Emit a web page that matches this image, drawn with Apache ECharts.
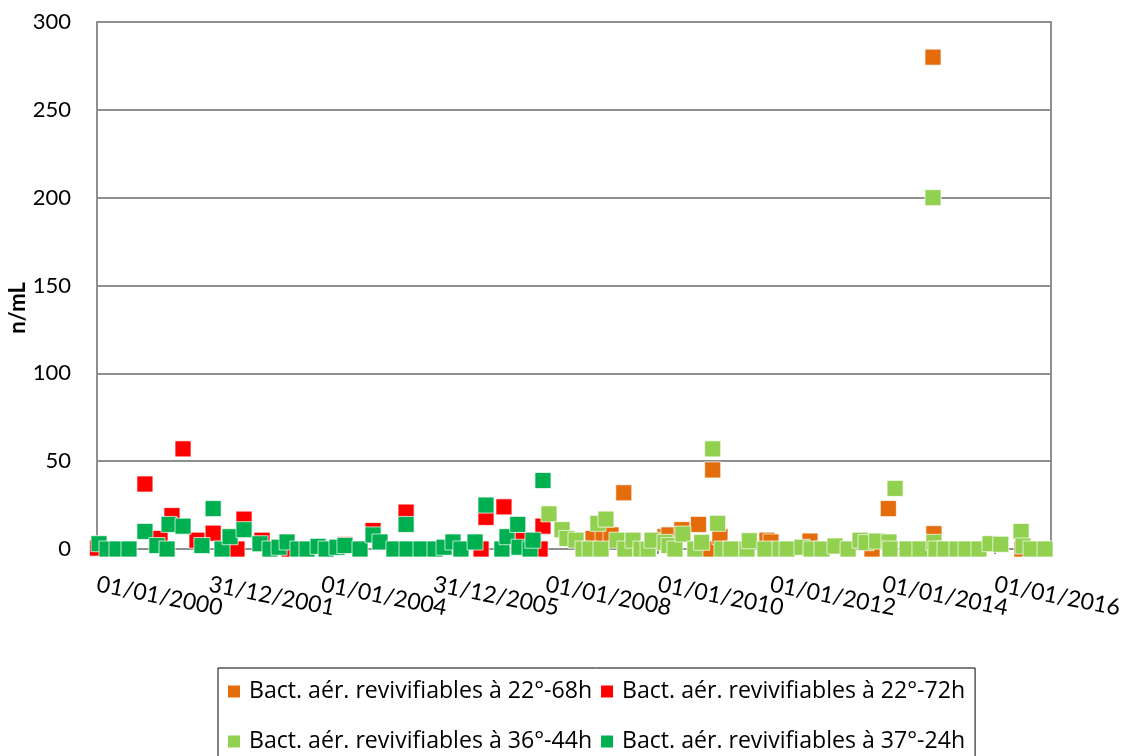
<!DOCTYPE html>
<html>
<head>
<meta charset="utf-8">
<script src="https://cdn.jsdelivr.net/npm/echarts@6/dist/echarts.min.js"></script>
<style>
  html, body { margin: 0; padding: 0; background: #ffffff; }
  #chart { width: 1128px; height: 756px; }
</style>
</head>
<body>
<div id="chart"></div>
<script>
// Series names (legend order = drawing order)
const seriesNames = [
  'Bact. aér. revivifiables à 22°-68h',
  'Bact. aér. revivifiables à 22°-72h',
  'Bact. aér. revivifiables à 36°-44h',
  'Bact. aér. revivifiables à 37°-24h'
];

// Bact. aér. revivifiables à 22°-68h (n/mL)
const dates22_68 = ['2008-11-03','2009-01-07','2009-02-28','2009-05-22','2009-07-08','2010-02-14','2010-03-12','2010-06-04','2010-09-20','2010-11-21',
  '2010-12-22','2011-02-07','2011-12-10','2012-01-05','2012-09-15','2013-10-24','2014-02-07','2014-11-25','2014-12-01','2016-06-26'];
const values22_68 = [6, 6, 8, 32, 0, 7, 8, 11, 14, 0, 45, 7, 5, 4, 4.5, 0, 23, 280, 8.7, 0];

// Bact. aér. revivifiables à 22°-72h (n/mL)
const dates22_72 = ['2000-01-04','2000-11-08','2001-02-14','2001-05-03','2001-07-14','2001-10-13','2002-01-26','2002-06-30','2002-08-15','2002-12-10',
  '2003-06-04','2004-06-02','2004-12-02','2005-07-05','2006-11-05','2006-12-07','2007-04-03','2007-08-05','2007-11-24','2007-12-13'];
const values22_72 = [0.5, 37, 6, 19, 57, 5, 9, 0, 17, 5, 0, 2.5, 10.5, 21, 0, 18, 24, 5, 0, 13];

// Bact. aér. revivifiables à 36°-44h (n/mL)
const dates36_44 = ['2008-01-21','2008-04-15','2008-05-17','2008-07-15','2008-08-30','2008-10-14','2008-12-05','2008-12-25',
  '2009-01-26','2009-04-08','2009-05-30','2009-07-21','2009-09-11','2009-10-27','2009-11-22',
  '2010-02-14','2010-03-12','2010-04-20','2010-06-11','2010-08-28','2010-10-11','2010-12-22',
  '2011-01-23','2011-02-20','2011-04-20','2011-08-02','2011-08-17','2011-11-27',
  '2012-03-04','2012-04-19','2012-07-25','2012-09-22','2012-12-02',
  '2013-02-25','2013-05-21','2013-08-07','2013-09-15','2013-11-23',
  '2014-02-11','2014-02-18','2014-03-23','2014-06-09','2014-09-01','2014-11-25','2014-12-01','2014-12-14',
  '2015-02-11','2015-04-30','2015-06-28','2015-09-20','2015-12-01',
  '2016-02-09','2016-06-20','2016-07-03','2016-08-24','2016-11-23'];
const values36_44 = [20, 11, 6, 5, 0, 0, 14.6, 0,
  17, 5, 0, 5, 0, 0, 5,
  3.8, 2, 0, 8.5, 0, 3.8, 57,
  14.6, 0, 0, 0, 4.7, 0,
  0, 0, 1, 0, 0,
  1.7, 0, 5, 3.6, 4.5,
  4, 0, 34.5, 0, 0, 200, 3.8, 0,
  0, 0, 0, 0, 3,
  2.7, 10, 1.7, 0, 0];

// Bact. aér. revivifiables à 37°-24h (n/mL)
const dates37_24 = ['2000-01-14','2000-03-06','2000-05-10','2000-07-27','2000-11-08',
  '2001-01-25','2001-04-01','2001-04-14','2001-07-14','2001-11-14',
  '2002-01-26','2002-03-25','2002-05-16','2002-08-15','2002-11-27',
  '2003-01-31','2003-03-31','2003-05-22','2003-08-01','2003-09-29','2003-12-10',
  '2004-01-31','2004-04-11','2004-06-02','2004-09-08','2004-12-02',
  '2005-01-16','2005-04-17','2005-07-05','2005-07-11','2005-10-10',
  '2006-01-09','2006-03-09','2006-05-06','2006-06-27','2006-09-27','2006-12-07',
  '2007-03-21','2007-04-23','2007-07-02','2007-07-10','2007-09-20','2007-10-09','2007-12-13'];
const values37_24 = [3, 0, 0, 0, 10,
  2, 0, 14, 13, 2,
  23, 0, 7, 11, 3,
  0, 1, 4, 0, 0, 1.5,
  0, 1, 2, 0, 8,
  4, 0, 14, 0, 0,
  0, 1, 4, 0, 4, 25,
  0, 7, 14, 1, 0, 5, 39];

// Date axis: start, end, tick step (days) and tick labels
const axisStart = '2000-01-01';
const axisEnd = '2017-01-01';
const tickStepDays = 730.5;
const xTickLabels = ['01/01/2000','31/12/2001','01/01/2004','31/12/2005','01/01/2008',
  '01/01/2010','01/01/2012','01/01/2014','01/01/2016'];

// Value axis
const yMin = 0, yMax = 300, yStep = 50;
const yTitle = 'n/mL';

const colors = ['#E46C0A', '#FF0000', '#92D050', '#00B050'];
const FONT = 'Lato, "Open Sans", sans-serif';
const LEGEND_FONT = '"Open Sans", Lato, sans-serif';

function toUTC(s) {
  const p = s.split('-').map(Number);
  return Date.UTC(p[0], p[1] - 1, p[2]);
}
function dayNumber(s) {
  return (toUTC(s) - toUTC(axisStart)) / 86400000;
}
function pairs(dates, values) {
  return dates.map((d, i) => [dayNumber(d), values[i]]);
}

const seriesData = [
  pairs(dates22_68, values22_68),
  pairs(dates22_72, values22_72),
  pairs(dates36_44, values36_44),
  pairs(dates37_24, values37_24)
];

const axisEndDay = dayNumber(axisEnd);
// Label positions: the dated ticks, framed by two blank guard labels so the
// automatic first/last label overlap pruning only ever drops a blank one.
const labelDays = xTickLabels.map((_, k) => k * tickStepDays);
const labelValues = [labelDays[0], labelDays[0] + 1].concat(labelDays.slice(1), [axisEndDay - 1]);

const chart = echarts.init(document.getElementById('chart'), null, { renderer: 'canvas' });

chart.setOption({
  animation: false,
  backgroundColor: '#ffffff',
  grid: {
    left: 97, right: 77, top: 22, bottom: 207,
    show: true, borderColor: '#8f8f8f', borderWidth: 2
  },
  xAxis: {
    type: 'value',
    min: 0,
    max: axisEndDay,
    interval: tickStepDays,
    axisLine: { show: true, lineStyle: { color: '#8f8f8f', width: 2 } },
    axisTick: { show: true, length: 5, customValues: labelDays, lineStyle: { color: '#8f8f8f', width: 2 } },
    splitLine: { show: false },
    axisLabel: {
      customValues: labelValues,
      rotate: -11,
      margin: 35,
      color: '#000000',
      fontFamily: FONT,
      fontSize: 23,
      showMinLabel: true,
      showMaxLabel: false,
      hideOverlap: false,
      formatter: function (v) {
        const k = Math.round(v / tickStepDays);
        if (Math.abs(k * tickStepDays - v) > 0.01) return '';
        return xTickLabels[k] || '';
      }
    }
  },
  yAxis: {
    type: 'value',
    min: yMin,
    max: yMax,
    interval: yStep,
    axisLine: { show: false },
    axisTick: { show: false },
    splitLine: { show: true, lineStyle: { color: '#8f8f8f', width: 2 } },
    axisLabel: { margin: 26, color: '#000000', fontFamily: FONT, fontSize: 22 }
  },
  legend: {
    data: seriesNames,
    left: 218,
    top: 668,
    width: 860,
    orient: 'horizontal',
    icon: 'rect',
    itemWidth: 12,
    itemHeight: 12,
    itemGap: 9,
    padding: [3, 10, 10, 10],
    borderColor: '#000000',
    borderWidth: 1,
    itemStyle: { borderWidth: 0, opacity: 1 },
    textStyle: {
      color: '#000000',
      fontFamily: LEGEND_FONT,
      fontSize: 23.1,
      lineHeight: 41,
      padding: [0, 0, 0, 4]
    }
  },
  graphic: [{
    type: 'text',
    x: 18,
    y: 308,
    rotation: Math.PI / 2,
    style: {
      text: yTitle,
      fontFamily: FONT,
      fontSize: 22,
      fontWeight: 'bold',
      fill: '#000000',
      align: 'center',
      verticalAlign: 'middle'
    }
  }],
  series: seriesNames.map((name, i) => ({
    name: name,
    type: 'scatter',
    data: seriesData[i],
    symbol: 'rect',
    symbolSize: 16,
    itemStyle: {
      color: colors[i],
      opacity: 1,
      borderColor: 'rgba(255,255,255,0.7)',
      borderWidth: 1
    },
    emphasis: { disabled: true }
  }))
});
</script>
</body>
</html>
